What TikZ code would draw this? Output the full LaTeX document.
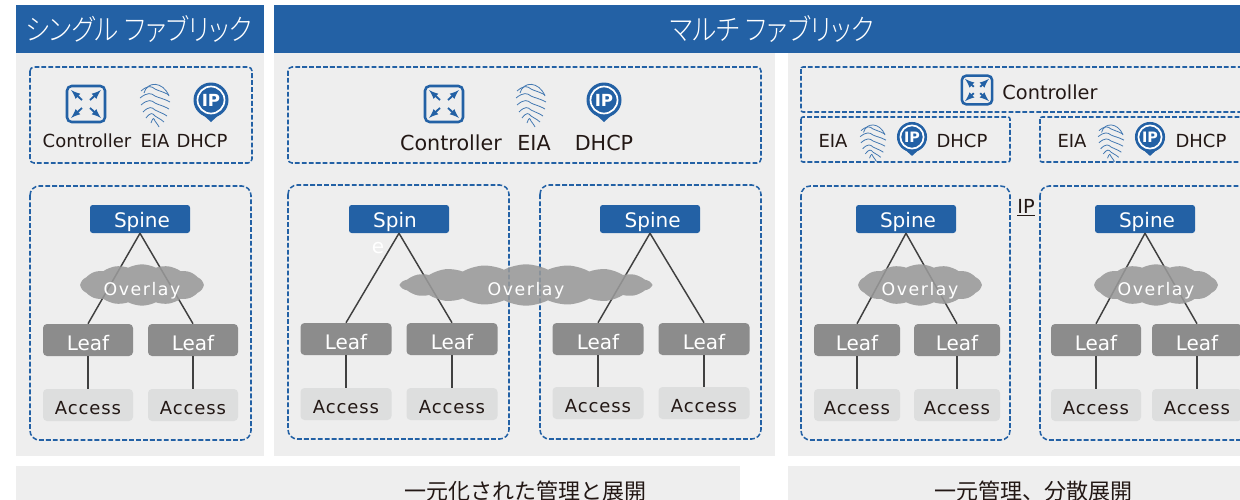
\documentclass[tikz,border=0pt]{standalone}
\usepackage{fontspec}
\setmainfont{DejaVu Sans}
\newfontfamily\jpfont{Noto Sans CJK JP}
\newfontfamily\jpheadfont[RawFeature={+palt},FakeStretch=0.87]{Noto Sans CJK JP Light}
\usetikzlibrary{calc,shapes.symbols}
\definecolor{fabblue}{HTML}{2361A5}
\definecolor{panelgray}{HTML}{EEEEEE}
\definecolor{leafgray}{HTML}{8C8C8C}
\definecolor{accessgray}{HTML}{DDDEDE}
\definecolor{cloudgray}{HTML}{999999}
\definecolor{inkdark}{HTML}{231815}
\tikzset{
	panel/.style={fill=panelgray},
	header/.style={fill=fabblue},
	headtext/.style={text=white,font=\jpheadfont\fontsize{22}{24}\selectfont},
	foottext/.style={text=inkdark,font=\jpfont\fontsize{16.5}{20}\selectfont},
	dashbox/.style={draw=fabblue,line width=1.15pt,dash pattern=on 3.6pt off 1.6pt,rounded corners=#1},
	dashbox/.default=3pt,
	spinebox/.style={fill=fabblue,rounded corners=2pt,text=white,minimum width=75pt,minimum height=21pt,inner sep=0pt,text height=13pt,text depth=0pt,font=\fontsize{15}{16}\selectfont},
	leafbox/.style={fill=leafgray,rounded corners=3pt,text=white,minimum height=24pt,inner sep=0pt,text height=16pt,text depth=0pt,font=\fontsize{15}{16}\selectfont},
	accessbox/.style={fill=accessgray,rounded corners=3pt,text=inkdark,minimum height=24pt,inner sep=0pt,text height=13.5pt,text depth=0pt,font=\fontsize{13.5}{16}\selectfont\addfontfeature{LetterSpace=5}},
	link/.style={draw=black!75,line width=1.1pt},
	overlaycloud/.style={cloud,cloud puffs=#1,cloud puff arc=55,cloud ignores aspect,fill=cloudgray,fill opacity=0.88,text opacity=1,text=white,inner sep=0pt,text height=15pt,text depth=0pt,font=\fontsize{13}{16}\selectfont\addfontfeature{LetterSpace=9}},
	label/.style={text=inkdark,inner sep=0pt,font=\fontsize{13.5}{16}\selectfont},
	biglabel/.style={text=inkdark,inner sep=0pt,font=\fontsize{15.5}{18}\selectfont},
	pics/ctrlicon/.style={code={
		\draw[fabblue,line width=1.9pt,rounded corners=3.5pt] (-19,-18) rectangle (19,18);
		\foreach \sx/\sy in {-1/-1,1/-1,-1/1,1/1}
			\draw[fabblue,line width=1.4pt,-latex] (\sx*4,\sy*4) -- (\sx*15,\sy*14);
	}},
	pics/printicon/.style={code={
		\draw[fabblue!85,line width=0.6pt] (-11,-10) .. controls (-8,-22) and (8,-22) .. (14,-7);
		\foreach \k/\w in {-12/14,-5/15,2/14,9/12,15/9,20/4}
			\draw[fabblue!85,line width=0.6pt] (-\w,\k) .. controls (-\w/2,\k-6) and (-\w/4,\k-5) .. (0,\k-2) .. controls (\w/4,\k) and (\w/2,\k) .. (\w,\k+4);
	}},
	pics/pinicon/.style={code={
		\fill[fabblue] (-15.5,8) -- (0,22) -- (15.5,8) -- cycle;
		\fill[fabblue] (0,0) circle (17.5);
		\draw[white,line width=1.3pt] (0,0) circle (13.5);
		\node[transform shape,text=white,inner sep=0pt,font=\bfseries\fontsize{12.5}{16}\selectfont] at (0,0) {IP};
	}},
}
% name, spine x, leaf x, leaf x, leaf y, access y, leaf width, spine text
\def\fabric#1(#2,#3,#4,#5,#6,#7)#8{
	\node[spinebox] (#1spine) at (#2,219) {#8};
	\node[leafbox,minimum width=#7*0.75pt] (#1leafa) at (#3,#5) {Leaf};
	\node[leafbox,minimum width=#7*0.75pt] (#1leafb) at (#4,#5) {Leaf};
	\node[accessbox,minimum width=#7*0.75pt] (#1accessa) at (#3,#6) {Access};
	\node[accessbox,minimum width=#7*0.75pt] (#1accessb) at (#4,#6) {Access};
	\draw[link] (#1spine.south) -- (#1leafa.north);
	\draw[link] (#1spine.south) -- (#1leafb.north);
	\draw[link] (#1leafa.south) -- (#1accessa.north);
	\draw[link] (#1leafb.south) -- (#1accessb.north);
}

\begin{document}
\begin{tikzpicture}[x=0.75pt,y=-0.75pt]
	\clip (0,0) rectangle (1240,500);
	
	%%%%% panels %%%%%
	\fill[white] (0,0) rectangle (1240,500);
	\fill[header] (16,5) rectangle (264,53);
	\fill[header] (274,5) rectangle (1240,53);
	\fill[panel] (16,53) rectangle (264,456);
	\fill[panel] (274,53) rectangle (775,456);
	\fill[panel] (788,53) rectangle (1240,456);
	\fill[panel] (16,466) rectangle (740,500);
	\fill[panel] (788,466) rectangle (1240,500);
	
	\node[headtext] (singlehead) at (139,29) {シングル ファブリック};
	\node[headtext] (multihead) at (772,29) {マルチ ファブリック};
	\node[foottext] (foota) at (525,491) {一元化された管理と展開};
	\node[foottext] (footb) at (1033,491) {一元管理、分散展開};
	
	%%%%% dashed boxes %%%%%
	\draw[dashbox] (30,67) rectangle (252,163);
	\draw[dashbox=7pt] (30,186) rectangle (251,440);
	\draw[dashbox] (288,67) rectangle (761,163);
	\draw[dashbox=7pt] (288,185) rectangle (509,439);
	\draw[dashbox=7pt] (540,185) rectangle (761,439);
	\draw[dashbox=1.5pt] (801,67) rectangle (1260,112);
	\draw[dashbox=1.5pt] (801,117) rectangle (1010,162);
	\draw[dashbox=1.5pt] (1040,117) rectangle (1260,162);
	\draw[dashbox=7pt] (801,186) rectangle (1010,440);
	\draw[dashbox=7pt] (1040,186) rectangle (1260,440);
	
	%%%%% single fabric %%%%%
	\pic (ctrla) at (86,104) {ctrlicon};
	\pic (printa) at (155,103) {printicon};
	\pic (pina) at (211,100) {pinicon};
	\node[label] (ctrltexta) at (87,141) {Controller};
	\node[label] (eiatexta) at (155,141) {EIA};
	\node[label] (dhcptexta) at (202,141) {DHCP};
	\fabric s(140,88,193,340,405,90){\hspace*{3pt}Spine}
	\node[overlaycloud=14,minimum width=92pt,minimum height=31pt] (sover) at (142,285) {Overlay};
	
	%%%%% multi fabric, one overlay %%%%%
	\pic (ctrlb) at (444,104) {ctrlicon};
	\pic (printb) at (531,103) {printicon};
	\pic (pinb) at (604,100) {pinicon};
	\node[biglabel] (ctrltextb) at (451,143) {Controller};
	\node[biglabel] (eiatextb) at (534,143) {EIA};
	\node[biglabel] (dhcptextb) at (604,143) {DHCP};
	\fabric ma(399,346,452,339,404,91){Spin\hspace*{6pt}}
	\node[text=white,inner sep=0pt,font=\fontsize{15}{16}\selectfont] (maspinee) at (378,248) {e};
	\fabric mb(650,598,704,339,403,91){\hspace*{4pt}Spine}
	\node[overlaycloud=18,minimum width=188pt,minimum height=31pt] (mover) at (526,285) {Overlay};
	
	%%%%% multi fabric, own sites %%%%%
	\pic[scale=0.8] (ctrlc) at (977,90) {ctrlicon};
	\node[label,font=\fontsize{14.5}{16}\selectfont] (ctrltextc) at (1050,92) {Controller};
	\node[label] (eiatextc) at (833,141) {EIA};
	\pic[scale=0.86] (printc) at (873,141) {printicon};
	\pic[scale=0.86] (pinc) at (912,137) {pinicon};
	\node[label] (dhcptextc) at (962,141) {DHCP};
	\node[label] (eiatextd) at (1072,141) {EIA};
	\pic[scale=0.86] (printd) at (1111,141) {printicon};
	\pic[scale=0.86] (pind) at (1150,137) {pinicon};
	\node[label] (dhcptextd) at (1201,141) {DHCP};
	\node[label,font=\fontsize{14.5}{16}\selectfont] (iptext) at (1026,208) {\underline{IP}};
	\fabric ra(906,857,957,340,405,86){\hspace*{3pt}Spine}
	\node[overlaycloud=14,minimum width=92pt,minimum height=31pt] (raover) at (920,285) {Overlay};
	\fabric rb(1145,1096,1197,340,405,90){\hspace*{3pt}Spine}
	\node[overlaycloud=14,minimum width=92pt,minimum height=31pt] (rbover) at (1156,285) {Overlay};
\end{tikzpicture}
\end{document}
